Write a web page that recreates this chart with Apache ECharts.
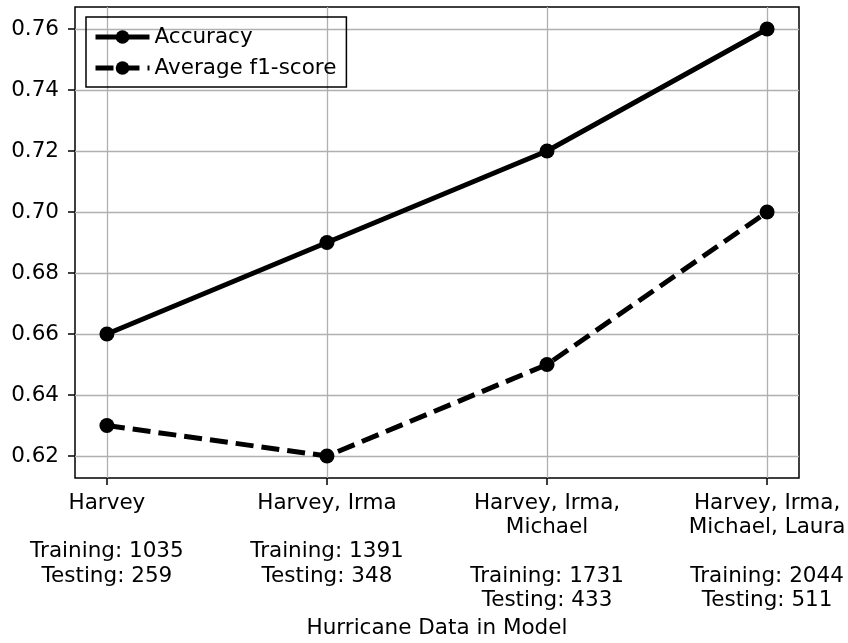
<!DOCTYPE html>
<html>
<head>
<meta charset="utf-8">
<script src="https://cdn.jsdelivr.net/npm/echarts@6/dist/echarts.min.js"></script>
<style>
  html, body { margin: 0; padding: 0; background: #fff; }
  #chart { width: 848px; height: 643px; }
</style>
</head>
<body>
<div id="chart"></div>
<script>
// Hurricane sets used to build each model, with sample counts
const categories = [
  'Harvey',
  'Harvey, Irma',
  'Harvey, Irma,\nMichael',
  'Harvey, Irma,\nMichael, Laura'
];
const trainingCounts = [1035, 1391, 1731, 2044];
const testingCounts = [259, 348, 433, 511];
const accuracy = [0.66, 0.69, 0.72, 0.76];
const f1Score = [0.63, 0.62, 0.65, 0.70];
const yTicks = [0.62, 0.64, 0.66, 0.68, 0.70, 0.72, 0.74, 0.76];

const FONT = 'DejaVu Sans';
const FS = 21.5;
const xTicks = categories.map((_, i) => i);

function xLabel(v) {
  const i = Math.round(v);
  return categories[i] + '\n\nTraining: ' + trainingCounts[i] + '\nTesting: ' + testingCounts[i];
}

const chart = echarts.init(document.getElementById('chart'));
chart.setOption({
  backgroundColor: '#fff',
  animation: false,
  grid: {
    left: 75, right: 49, top: 7, bottom: 165,
    outerBoundsMode: 'none',
    containLabel: false,
    show: true, borderColor: '#000', borderWidth: 1.5, backgroundColor: 'transparent'
  },
  legend: {
    left: 86, top: 17,
    orient: 'vertical',
    itemWidth: 54, itemHeight: 17, itemGap: 9,
    padding: [9, 10, 8, 7],
    borderColor: '#000', borderWidth: 1.5, borderRadius: 0,
    lineStyle: { width: 5 },
    textStyle: { fontFamily: FONT, fontSize: FS, color: '#000' },
    data: ['Accuracy', 'Average f1-score']
  },
  xAxis: {
    type: 'value',
    min: -0.145, max: 3.145,
    name: 'Hurricane Data in Model',
    nameLocation: 'middle',
    nameGap: 135,
    nameTextStyle: { fontFamily: FONT, fontSize: FS, color: '#000' },
    axisLine: { show: false, onZero: false },
    axisTick: { show: true, customValues: xTicks, length: 7, lineStyle: { color: '#000', width: 1.5 } },
    axisLabel: {
      customValues: xTicks,
      formatter: xLabel,
      fontFamily: FONT, fontSize: FS, color: '#000',
      lineHeight: 24.3, margin: 13, align: 'center'
    },
    splitLine: { show: true, lineStyle: { color: '#b0b0b0', width: 1.3 } }
  },
  yAxis: {
    type: 'value',
    min: 0.6128, max: 0.7672,
    axisLine: { show: false, onZero: false },
    axisTick: { show: true, customValues: yTicks, length: 7, lineStyle: { color: '#000', width: 1.5 } },
    axisLabel: {
      customValues: yTicks,
      formatter: v => v.toFixed(2),
      fontFamily: FONT, fontSize: FS, color: '#000', margin: 16
    },
    splitLine: { show: true, lineStyle: { color: '#b0b0b0', width: 1.3 } }
  },
  series: [
    {
      name: 'Accuracy',
      type: 'line',
      data: accuracy.map((v, i) => [i, v]),
      symbol: 'circle', symbolSize: 15,
      itemStyle: { color: '#000' },
      lineStyle: { color: '#000', width: 5 }
    },
    {
      name: 'Average f1-score',
      type: 'line',
      data: f1Score.map((v, i) => [i, v]),
      symbol: 'circle', symbolSize: 15,
      itemStyle: { color: '#000' },
      lineStyle: { color: '#000', width: 5, type: [18, 8] }
    }
  ]
});
</script>
</body>
</html>
